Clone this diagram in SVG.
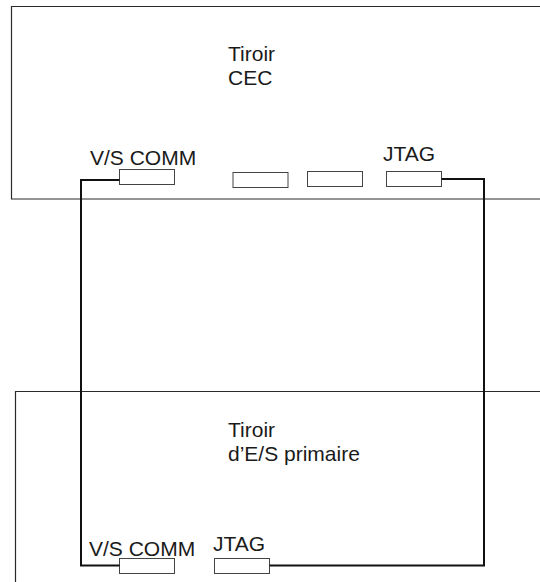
<svg xmlns="http://www.w3.org/2000/svg" width="540" height="582" viewBox="0 0 540 582">
<style>
.box{fill:none;stroke:#2a2a2a;stroke-width:1.2}
.port{fill:#fff;stroke:#444;stroke-width:1}
.wire{fill:none;stroke:#111;stroke-width:2}
text{font-family:"Liberation Sans",Arial,sans-serif;font-size:21px;fill:#1a1a1a}
</style>
<g id="cec">
<path class="box" d="M540 6.5 H11.5 V199 H540"/>
<text x="228" y="61">Tiroir</text>
<text x="228" y="85">CEC</text>
<text x="90" y="165">V/S COMM</text>
<rect class="port" x="119.5" y="169.5" width="55" height="15"/>
<rect class="port" x="233" y="172.5" width="55" height="15"/>
<rect class="port" x="307.5" y="171.5" width="55" height="15"/>
<text x="383" y="161">JTAG</text>
<rect class="port" x="386.5" y="171.5" width="55" height="15"/>
</g>
<g id="io">
<path class="box" d="M15.5 582 V391.5 H540"/>
<text x="228" y="437">Tiroir</text>
<text x="228" y="461">d’E/S primaire</text>
<text x="89" y="556">V/S COMM</text>
<rect class="port" x="119.5" y="558.5" width="55" height="15"/>
<text x="213" y="551">JTAG</text>
<rect class="port" x="214.5" y="558.5" width="55" height="15"/>
</g>
<g id="connectors">
<path class="wire" d="M119.5 180 H81 V565.5 H119.5"/>
<path class="wire" d="M441.5 179 H484 V565.5 H269.5"/>
</g>
</svg>
